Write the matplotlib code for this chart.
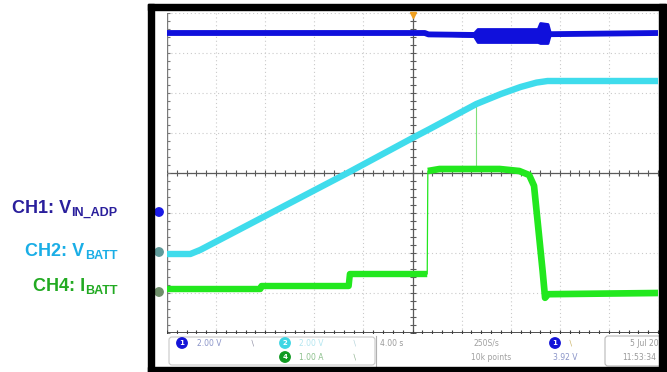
import numpy as np
import matplotlib.pyplot as plt
from matplotlib.patches import Rectangle, FancyBboxPatch, Circle

# time base: 4 s/div, 10 div
t_div = 4.0
n_xdiv, n_ydiv = 10, 8

# CH1 V_IN_ADP, 2 V/div, ground marker 1 div below centre
ch1_scale, ch1_pos = 2.0, -1.0
ch1_t = [0.0, 21.0, 21.3, 25.2, 40.0]
ch1_v = [9.0, 9.0, 8.93, 8.9, 9.0]
# ripple envelope while the charger is switching
ch1_rip_t = [21.0, 25.0, 25.3, 30.2, 30.4, 31.0, 31.2]
ch1_rip_lo = [8.95, 8.85, 8.55, 8.55, 8.5, 8.5, 8.95]
ch1_rip_hi = [9.0, 9.0, 9.2, 9.2, 9.5, 9.45, 9.0]

# CH2 V_BATT, 2 V/div, ground 2 div below centre
ch2_scale, ch2_pos = 2.0, -2.0
ch2_t = [0.0, 1.9, 2.7, 14.7, 20.0, 21.4, 25.2, 27.2, 28.8, 30.1, 31.0, 40.0]
ch2_v = [-0.05, -0.05, 0.15, 4.0, 5.75, 6.2, 7.45, 7.95, 8.3, 8.52, 8.6, 8.6]

# CH4 I_BATT, 1 A/div, ground 3 div below centre
ch4_scale, ch4_pos = 1.0, -3.0
ch4_t = [0.0, 7.6, 7.7, 14.8, 14.9, 21.2, 21.25, 22.2, 27.1, 28.7, 29.5, 29.9,
         30.6, 30.8, 31.05, 40.0]
ch4_a = [0.1, 0.1, 0.175, 0.175, 0.475, 0.475, 3.05, 3.1, 3.1, 3.05, 2.95, 2.68,
         0.55, -0.12, -0.03, 0.0]
ch4_fast_edge = 21.2
ch4_glitch_t, ch4_glitch_a = 25.2, 4.7

ch_names = [("CH1: V", "IN_ADP", "#2a1f9c"),
            ("CH2: V", "BATT", "#1aaee6"),
            ("CH4: I", "BATT", "#22aa22")]
label_x = [12, 25, 33]
label_base = [213, 256, 291]

c1, c2, c4 = "#1010dc", "#3fdcec", "#22e81e"

fig = plt.figure(figsize=(6.67, 3.72), dpi=100)
fig.patch.set_facecolor("white")
W, H = 667, 372

def fx(px):
    return px / W

def fy(py):
    return 1 - py / H

# scope graticule
ax = fig.add_axes([fx(167), fy(333), fx(658) - fx(167), fy(13) - fy(333)])
ax.set_xlim(0, n_xdiv * t_div)
ax.set_ylim(-n_ydiv / 2, n_ydiv / 2)
ax.axis("off")

for k in range(1, n_xdiv + 1):
    ax.axvline(k * t_div, color="#cacaca", lw=0.8, ls=(0, (1, 2.5)), zorder=1)
for k in range(-3, 5):
    ax.axhline(k, color="#cacaca", lw=0.8, ls=(0, (1, 2.5)), zorder=1)
ax.axhline(0, color="#5a5a5a", lw=0.9, zorder=1)
ax.axvline(20, color="#5a5a5a", lw=0.9, zorder=1)
ax.axvline(0, color="#7a7a7a", lw=1.0, zorder=1)
ax.axhline(-4, color="#404040", lw=1.3, zorder=1)
xt = np.arange(0, 40.01, 0.8)
yt = np.arange(-4, 4.01, 0.2)
ax.plot(xt, np.zeros_like(xt), ls="none", marker="|", ms=4, color="#5a5a5a", mew=0.8, zorder=1)
ax.plot(np.full_like(yt, 20), yt, ls="none", marker="_", ms=4, color="#5a5a5a", mew=0.8, zorder=1)
ax.plot(np.zeros_like(yt), yt, ls="none", marker="_", ms=4, color="#7a7a7a", mew=0.8, zorder=1)
ax.plot(xt, np.full_like(xt, -4), ls="none", marker="|", ms=4, color="#404040", mew=0.8, zorder=1)

# CH1
y1 = np.array(ch1_v) / ch1_scale + ch1_pos
ax.plot(ch1_t, y1, color=c1, lw=4.2, solid_capstyle="butt", zorder=4)
ax.fill_between(ch1_rip_t, np.array(ch1_rip_lo) / ch1_scale + ch1_pos,
                np.array(ch1_rip_hi) / ch1_scale + ch1_pos, color=c1, lw=2, edgecolor=c1, zorder=4)

# CH2
y2 = np.array(ch2_v) / ch2_scale + ch2_pos
ax.plot(ch2_t, y2, color=c2, lw=4.6, solid_capstyle="butt", solid_joinstyle="round", zorder=3)

# CH4: thin full trace, thick except across the fast edge
t4 = np.array(ch4_t)
y4 = np.array(ch4_a) / ch4_scale + ch4_pos
ax.plot(t4, y4, color=c4, lw=0.9, zorder=3)
cut = np.searchsorted(t4, ch4_fast_edge, side="right")
ax.plot(t4[:cut], y4[:cut], color=c4, lw=4.6, solid_capstyle="butt", zorder=3)
ax.plot(t4[cut:], y4[cut:], color=c4, lw=4.8, solid_capstyle="butt", solid_joinstyle="round", zorder=3)
top = np.interp(ch4_glitch_t, t4, y4)
ax.plot([ch4_glitch_t, ch4_glitch_t], [top, ch4_glitch_a / ch4_scale + ch4_pos],
        color="#7fe07a", lw=0.8, zorder=2)

# trigger position marker
ax.plot([20], [3.95], marker="v", ms=4, color="#f0a020", clip_on=False, zorder=5)

# overlay in pixel coordinates: frame, labels, status bar
ov = fig.add_axes([0, 0, 1, 1], zorder=2)
ov.set_xlim(0, W)
ov.set_ylim(H, 0)
ov.axis("off")
ov.patch.set_visible(False)

# channel ground markers
for py, col in [(212, "#1a1ae6"), (252, "#5f9a9a"), (292, "#6f8f6a")]:
    ov.add_patch(Circle((159, py), 4.2, color=col, zorder=3))

# status bar
ov.add_patch(FancyBboxPatch((169, 337), 206, 28, boxstyle="round,pad=0,rounding_size=3",
                            fc="white", ec="#c8c8c8", lw=0.8, zorder=2))
ov.plot([376, 376], [336, 366], color="#b0b0b0", lw=0.8, zorder=2)
ov.add_patch(FancyBboxPatch((605, 336), 60, 30, boxstyle="round,pad=0,rounding_size=3",
                            fc="white", ec="#b8b8b8", lw=0.8, zorder=2))
badges = [(182, 343, "#1414d8", "1"), (285, 343, "#3ed6e4", "2"),
          (285, 357, "#109a22", "4"), (555, 343, "#1414d8", "1")]
for bx, by, col, num in badges:
    ov.add_patch(Circle((bx, by), 5.2, color=col, zorder=3))
    ov.text(bx, by + 0.3, num, color="white", fontsize=5, ha="center", va="center",
            fontweight="bold", zorder=4)
status = [(197, 343, "2.00 V", "#8a94c8"), (250, 343, "\u2216", "#8a8aa0"),
          (299, 343, "2.00 V", "#b4e6f0"), (352, 343, "\u2216", "#b0d0d8"),
          (299, 357, "1.00 A", "#8cc08c"), (352, 357, "\u2216", "#8cb08c"),
          (380, 343, "4.00 s", "#9a9a9a"), (474, 343, "250S/s", "#a0a0a0"),
          (471, 357, "10k points", "#a0a0a0"), (568, 343, "\u2216", "#c8b060"),
          (553, 357, "3.92 V", "#8a94c8"), (630, 343, "5 Jul 2018", "#9a9a9a"),
          (622, 357, "11:53:34", "#9a9a9a")]
for sx, sy, s, col in status:
    ov.text(sx, sy, s, color=col, fontsize=5.5, va="center", zorder=3)

# black bezel, drawn over the status text so it clips it
for x0, y0, w, h in [(148, 4, 518, 6), (148, 367, 518, 5), (148, 4, 6, 368), (659, 4, 7, 368)]:
    ov.add_patch(Rectangle((x0, y0), w, h, color="black", zorder=6))

# channel labels with subscripts
fig.canvas.draw()
rend = fig.canvas.get_renderer()
for (main, sub, col), lx, ly in zip(ch_names, label_x, label_base):
    t = ov.text(lx, ly, main, color=col, fontsize=13, fontweight="bold",
                family="Liberation Sans", va="baseline", zorder=3)
    x1 = t.get_window_extent(rend).x1
    ov.text(x1 + 0.5, ly + 3, sub, color=col, fontsize=9, fontweight="bold",
            family="Liberation Sans", va="baseline", zorder=3)

fig.savefig("out.png", dpi=100)
